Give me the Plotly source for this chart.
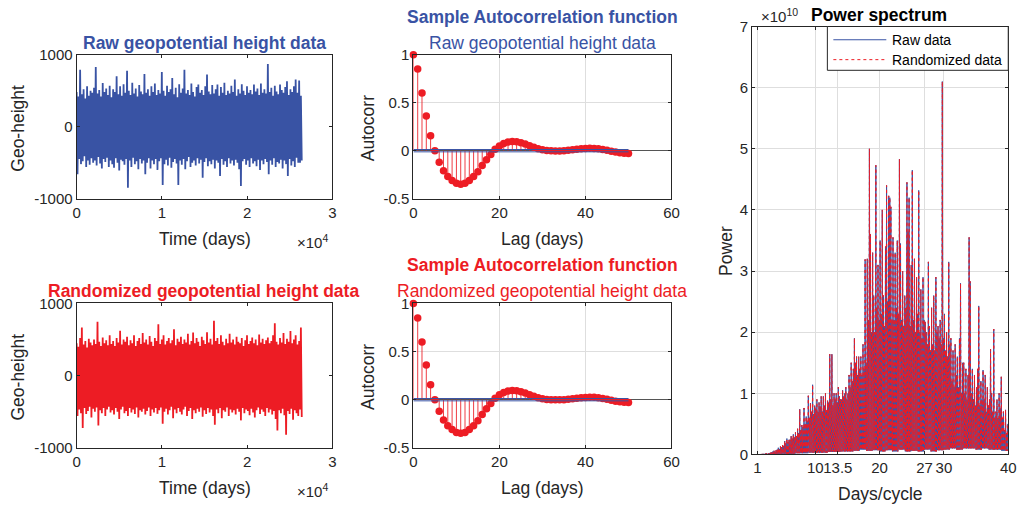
import numpy as np
import plotly.graph_objects as go

W, H = 1021, 505
BLUE = "#3953a4"
RED = "#ed1c24"
INK = "#262626"
GRID = "#dedede"
FONT = "Liberation Sans, Arial, Helvetica, sans-serif"

# ---------------- time series (geopotential height, metres) ----------------
series_end_day = 26400
raw_hi = [480, 420, 790, 450, 520, 390, 560, 430, 500, 470,
          540, 830, 460, 510, 420, 607, 480, 530, 440, 570,
          410, 520, 480, 700, 450, 560, 430, 590, 470, 778,
          500, 440, 610, 460, 530, 420, 580, 490, 450, 731,
          470, 520, 430, 561, 480, 600, 440, 510, 460, 759,
          500, 430, 570, 480, 520, 676, 450, 540, 410, 590,
          470, 530, 792, 460, 510, 440, 600, 480, 420, 550,
          584, 470, 510, 440, 560, 723, 490, 450, 580, 460,
          520, 584, 430, 550, 470, 610, 440, 500, 460, 570,
          480, 654, 430, 520, 460, 590, 500, 440, 560, 470,
          510, 450, 584, 490, 530, 440, 600, 470, 520, 460,
          870, 480, 540, 430, 570, 490, 450, 584, 510, 470,
          550, 630, 440, 520, 480, 560, 654, 470, 640, 430]
raw_lo = [-662, -450, -520, -480, -410, -560, -470, -530, -440, -500,
          -470, -540, -420, -510, -580, -450, -490, -430, -560, -470,
          -520, -570, -440, -500, -610, -460, -480, -530, -450, -847,
          -470, -560, -430, -520, -480, -590, -450, -510, -470, -662,
          -500, -440, -580, -470, -520, -450, -600, -480, -440, -810,
          -520, -460, -540, -430, -570, -490, -450, -510, -810, -470,
          -530, -450, -590, -480, -420, -560, -500, -470, -540, -440,
          -510, -460, -709, -490, -440, -550, -480, -520, -460, -580,
          -470, -500, -686, -450, -530, -480, -560, -440, -510, -470,
          -540, -460, -500, -590, -824, -480, -450, -530, -470, -560,
          -440, -510, -480, -550, -460, -600, -470, -520, -450, -490,
          -662, -470, -530, -440, -560, -490, -510, -460, -580, -470,
          -520, -686, -450, -540, -480, -560, -430, -500, -501, -470]
rnd_hi = [450, 400, 520, 667, 430, 480, 390, 510, 460, 420,
          500, 440, 745, 470, 410, 530, 450, 490, 420, 560,
          440, 480, 410, 520, 460, 621, 430, 500, 470, 540,
          420, 490, 450, 560, 410, 480, 520, 440, 590, 460,
          500, 430, 550, 470, 410, 520, 480, 713, 440, 500,
          560, 430, 480, 520, 450, 490, 644, 420, 510, 470,
          540, 440, 500, 460, 580, 430, 480, 598, 450, 520,
          470, 410, 540, 490, 440, 600, 460, 510, 430, 759,
          480, 520, 440, 560, 470, 420, 510, 450, 580, 460,
          500, 430, 540, 470, 450, 520, 410, 490, 560, 440,
          480, 530, 450, 500, 420, 570, 460, 510, 440, 490,
          530, 450, 480, 560, 727, 470, 430, 520, 460, 590,
          440, 510, 470, 620, 450, 500, 560, 430, 480, 667]
rnd_lo = [-560, -470, -520, -726, -450, -530, -490, -430, -580, -460,
          -500, -440, -690, -480, -520, -450, -560, -470, -430, -510,
          -480, -540, -450, -500, -600, -470, -430, -520, -490, -560,
          -450, -510, -470, -530, -440, -580, -480, -500, -460, -540,
          -490, -440, -560, -470, -510, -450, -530, -480, -440, -666,
          -500, -460, -540, -480, -430, -590, -470, -520, -450, -500,
          -540, -470, -430, -560, -490, -450, -600, -480, -520, -460,
          -500, -440, -570, -480, -530, -450, -510, -470, -560, -680,
          -470, -520, -450, -590, -480, -500, -440, -560, -470, -510,
          -480, -540, -460, -500, -620, -450, -520, -470, -490, -550,
          -460, -510, -580, -480, -440, -530, -470, -500, -560, -450,
          -510, -470, -540, -490, -600, -759, -480, -520, -460, -550,
          -818, -490, -530, -460, -610, -480, -520, -560, -470, -574]

# ---------------- sample autocorrelation, lags 0..50 ----------------
acf_lags = list(range(51))
acf_vals = [1.0, 0.85, 0.60, 0.36, 0.155, 0.0, -0.12, -0.21, -0.27, -0.31,
            -0.34, -0.35, -0.34, -0.31, -0.27, -0.22, -0.155, -0.095, -0.04, 0.015,
            0.05, 0.075, 0.09, 0.095, 0.093, 0.083, 0.07, 0.052, 0.035, 0.02,
            0.01, 0.003, 0.0, -0.002, -0.002, 0.0, 0.005, 0.01, 0.015, 0.02,
            0.023, 0.025, 0.024, 0.02, 0.013, 0.004, -0.006, -0.015, -0.022, -0.026,
            -0.03]
acf_bound = 0.012

# ---------------- power spectrum (units of 1e10), per period bin ----------------
spec_edges = [1.5] + list(range(2, 41))
spec_trough = [0, 0, 0, 0, 0.01, 0.01, 0.02, 0.02, 0.03, 0.03,
               0.03, 0.04, 0.04, 0.05, 0.05, 0.06, 0.08, 0.06, 0.07, 0.05,
               0.07, 0.05, 0.08, 0.05, 0.06, 0.05, 0.08, 0.05, 0.07, 0.08,
               0.1, 0.08, 0.1, 0.1, 0.08, 0.1, 0.08, 0.08, 0.06]
spec_peaks = [
    [0.0, 0.002, 0.004, 0.005],
    [0.01, 0.015, 0.02, 0.012, 0.018, 0.025],
    [0.03, 0.04, 0.05, 0.06, 0.045, 0.07],
    [0.08, 0.11, 0.09, 0.13, 0.12, 0.15],
    [0.14, 0.22, 0.18, 0.26, 0.2, 0.24],
    [0.24, 0.3, 0.26, 0.33, 0.28, 0.36],
    [0.3, 0.42, 0.35, 0.74, 0.4, 0.48],
    [0.45, 0.76, 0.5, 0.62, 0.55, 0.96],
    [0.6, 0.84, 0.7, 1.14, 0.66, 0.8],
    [0.75, 0.9, 0.7, 0.85, 0.78, 0.95],
    [0.7, 0.95, 0.8, 1.0, 0.72, 0.88],
    [0.85, 1.64, 0.9, 1.64, 0.8, 1.0],
    [0.9, 1.0, 0.85, 1.1, 0.95, 0.9],
    [0.9, 1.05, 0.95, 1.0, 1.1, 0.9],
    [1.0, 1.3, 1.1, 1.5, 1.2, 1.4],
    [1.9, 1.5, 1.6, 1.3, 1.6, 1.4],
    [1.6, 1.3, 1.8, 1.4, 3.19, 1.5],
    [3.2, 2.2, 5.0, 3.6, 2.0, 3.3],
    [2.6, 2.0, 4.73, 2.4, 3.1, 2.2],
    [3.5, 2.3, 4.0, 2.6, 2.1, 3.4],
    [4.4, 2.5, 4.23, 4.2, 4.05, 2.2],
    [3.55, 2.2, 3.3, 2.4, 3.5, 2.3],
    [4.83, 3.45, 2.2, 3.0, 2.1, 2.6],
    [2.4, 4.45, 3.65, 4.2, 2.1, 3.1],
    [4.65, 2.2, 3.2, 2.0, 2.9, 2.3],
    [4.32, 2.0, 2.7, 1.9, 2.9, 2.2],
    [2.17, 2.0, 1.8, 3.15, 2.1, 1.7],
    [2.4, 1.8, 2.6, 1.7, 2.9, 2.0],
    [2.1, 1.9, 2.2, 1.8, 6.1, 1.9],
    [2.3, 1.7, 2.0, 1.6, 3.15, 1.8],
    [1.9, 1.2, 1.7, 1.1, 1.8, 1.3],
    [1.6, 1.1, 1.9, 2.8, 1.0, 1.5],
    [1.5, 1.0, 1.4, 0.9, 1.3, 3.55],
    [2.83, 1.0, 1.4, 0.9, 1.3, 0.8],
    [1.1, 1.4, 2.43, 0.8, 1.2, 0.9],
    [1.38, 0.9, 1.3, 0.7, 1.1, 0.8],
    [0.9, 1.72, 1.0, 0.7, 2.05, 0.6],
    [0.7, 0.9, 0.6, 1.0, 0.75, 1.27],
    [0.6, 0.7, 0.4, 0.73, 0.35, 0.5],
]
period_ticks = [1, 10, 13.5, 20, 27, 30, 40]


def interleave(hi, lo):
    out = []
    for a, b in zip(hi, lo):
        out += [a, b]
    return out


def spectrum_xy():
    xs, ys = [], []
    for b in range(len(spec_peaks)):
        lo, hi = spec_edges[b], spec_edges[b + 1]
        n = len(spec_peaks[b])
        for j, pk in enumerate(spec_peaks[b]):
            xs += [lo + (hi - lo) * j / n, lo + (hi - lo) * (j + 0.5) / n]
            ys += [spec_trough[b] * 1e10, pk * 1e10]
    return xs, ys


raw_y = interleave(raw_hi, raw_lo)
rnd_y = interleave(rnd_hi, rnd_lo)
t_days = np.linspace(0, series_end_day, len(raw_y))
spec_x, spec_y = spectrum_xy()

# Screen-pixel layout positions mapped to paper coordinates for the
# viewer's rendering of the page.
OX, KX = 3.0, 0.989
OY, KY = 7.4, 0.971


def fx(px):
    return (px - OX) / KX / W


def fy(px):
    return 1 - (px - OY) / KY / H


fig = go.Figure()

# time series panels
fig.add_trace(go.Scatter(x=t_days, y=raw_y, mode="lines",
                         line=dict(color=BLUE, width=1.8, simplify=False),
                         showlegend=False, xaxis="x", yaxis="y"))
fig.add_trace(go.Scatter(x=t_days, y=rnd_y, mode="lines",
                         line=dict(color=RED, width=1.8, simplify=False),
                         showlegend=False, xaxis="x3", yaxis="y3"))

# autocorrelation panels
for xa, ya in (("x2", "y2"), ("x4", "y4")):
    sx, sy = [], []
    for lag, v in zip(acf_lags, acf_vals):
        sx += [lag, lag, None]
        sy += [0, v, None]
    fig.add_trace(go.Scatter(x=sx, y=sy, mode="lines", line=dict(color=RED, width=1),
                             opacity=0.85, showlegend=False, xaxis=xa, yaxis=ya))
    fig.add_trace(go.Scatter(x=acf_lags, y=acf_vals, mode="markers", cliponaxis=False,
                             marker=dict(color=RED, size=7.5, line=dict(width=0)),
                             showlegend=False, xaxis=xa, yaxis=ya))
    for sgn in (1, -1):
        fig.add_trace(go.Scatter(x=[acf_lags[0], acf_lags[-1]], y=[sgn * acf_bound] * 2,
                                 mode="lines", line=dict(color=BLUE, width=1),
                                 showlegend=False, xaxis=xa, yaxis=ya))

# power spectrum: raw (solid) with the randomized series dotted on top
fig.add_trace(go.Scatter(x=spec_x, y=spec_y, mode="lines", name="Raw data",
                         line=dict(color=BLUE, width=1, simplify=False),
                         showlegend=False, xaxis="x5", yaxis="y5"))
fig.add_trace(go.Scatter(x=spec_x, y=spec_y, mode="lines", name="Randomized data",
                         line=dict(color=RED, width=1, dash="dot", simplify=False),
                         showlegend=False, xaxis="x5", yaxis="y5"))


base_axis = dict(showline=True, linecolor=INK, linewidth=1, mirror="ticks",
                 ticks="inside", ticklen=3, tickcolor=INK, tickangle=0,
                 tickfont=dict(family=FONT, size=15, color=INK),
                 zeroline=False, showgrid=False)

dom_x_left = [fx(75.7), fx(331.7)]
dom_x_mid = [fx(412.7), fx(671)]
dom_y_top = [fy(198), fy(53.3)]
dom_y_bot = [fy(448.3), fy(303.3)]

ts_x = dict(base_axis, range=[0, 30000], tickvals=[0, 10000, 20000, 30000],
            ticktext=["0", "1", "2", "3"])
ts_y = dict(base_axis, range=[-1000, 1000], tickvals=[-1000, 0, 1000],
            ticktext=["-1000", "0", "1000"])
ac_x = dict(base_axis, range=[0, 60], tickvals=[0, 20, 40, 60], showgrid=True,
            gridcolor=GRID)
ac_y = dict(base_axis, range=[-0.5, 1], tickvals=[-0.5, 0, 0.5, 1],
            ticktext=["-0.5", "0", "0.5", "1"], showgrid=True, gridcolor=GRID,
            zeroline=True, zerolinecolor="#555555", zerolinewidth=1)

fig.update_layout(
    width=W, height=H, margin=dict(l=0, r=0, t=0, b=0),
    paper_bgcolor="white", plot_bgcolor="white",
    font=dict(family=FONT, color=INK),
    showlegend=False,
    xaxis=dict(ts_x, domain=dom_x_left, anchor="y"),
    yaxis=dict(ts_y, domain=dom_y_top, anchor="x"),
    xaxis2=dict(ac_x, domain=dom_x_mid, anchor="y2"),
    yaxis2=dict(ac_y, domain=dom_y_top, anchor="x2"),
    xaxis3=dict(ts_x, domain=dom_x_left, anchor="y3"),
    yaxis3=dict(ts_y, domain=dom_y_bot, anchor="x3"),
    xaxis4=dict(ac_x, domain=dom_x_mid, anchor="y4"),
    yaxis4=dict(ac_y, domain=dom_y_bot, anchor="x4"),
    xaxis5=dict(base_axis, domain=[fx(751.7), fx(1008)], anchor="y5",
                range=[0.18, 40], tickvals=period_ticks,
                ticktext=["1", "10", "13.5", "20", "27", "30", "40"],
                showgrid=True, gridcolor=GRID),
    yaxis5=dict(base_axis, domain=[fy(455), fy(25)], anchor="x5",
                range=[0, 7e10], tickvals=[i * 1e10 for i in range(8)],
                ticktext=[str(i) for i in range(8)], showgrid=True, gridcolor=GRID),
)


def label(text, x, y, size, color=INK, bold=False, angle=0, anchor="center"):
    if bold:
        text = "<b>" + text + "</b>"
    fig.add_annotation(text=text, x=fx(x), y=fy(y), xref="paper", yref="paper",
                       showarrow=False, xanchor=anchor, yanchor="middle",
                       textangle=angle, font=dict(family=FONT, size=size, color=color))


# legend box for the spectrum panel
fig.add_shape(type="rect", xref="paper", yref="paper", layer="above",
              x0=fx(827), x1=fx(1008), y0=fy(69), y1=fy(25),
              line=dict(color=INK, width=1), fillcolor="white")
fig.add_shape(type="line", xref="paper", yref="paper", layer="above",
              x0=fx(833), x1=fx(886), y0=fy(38.3), y1=fy(38.3),
              line=dict(color=BLUE, width=1))
fig.add_shape(type="line", xref="paper", yref="paper", layer="above",
              x0=fx(833), x1=fx(886), y0=fy(58.3), y1=fy(58.3),
              line=dict(color=RED, width=1, dash="dot"))
label("Raw data", 890, 38.3, 14, "black", anchor="left")
label("Randomized data", 890, 58.3, 14, "black", anchor="left")

# panel titles
label("Raw geopotential height data", 203.7, 41.7, 17.5, BLUE, bold=True)
label("Randomized geopotential height data", 202.5, 291, 17.5, RED, bold=True)
label("Sample Autocorrelation function", 541.8, 15, 17.5, BLUE, bold=True)
label("Raw geopotential height data", 541.8, 41.7, 17.5, BLUE)
label("Sample Autocorrelation function", 541.8, 265, 17.5, RED, bold=True)
label("Randomized geopotential height data", 541.8, 291, 17.5, RED)
label("Power spectrum", 879, 13, 17.5, "black", bold=True)

# axis titles
for yc in (126.7, 376.7):
    label("Geo-height", 17, yc, 17.5, angle=-90)
    label("Autocorr", 366.7, yc, 17.5, angle=-90)
for yc in (238.3, 488.3):
    label("Time (days)", 203.7, yc, 17.5)
    label("Lag (days)", 541.8, yc, 17.5)
    label("\u00d710<sup>4</sup>", 312, yc + 3, 15)
label("Power", 726, 250, 17.5, angle=-90)
label("Days/cycle", 880, 495, 17.5)
label("\u00d710<sup>10</sup>", 779, 14, 15)

fig.write_html("out.html")
